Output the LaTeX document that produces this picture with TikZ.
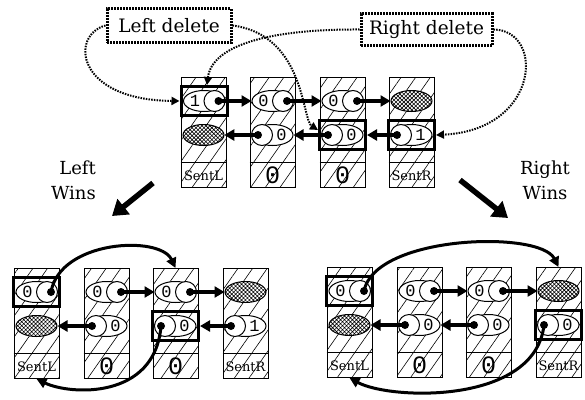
\documentclass[tikz,border=0pt]{standalone}
\usepackage{fontspec}
\setmainfont{DejaVu Serif}
\newfontfamily\digfont{Liberation Mono}
\usetikzlibrary{shapes.geometric,arrows.meta,patterns.meta}

\tikzset{
 colbox/.style={preaction={fill=white}, pattern={Lines[angle=55,distance=12pt,line width=0.6pt]}, draw, line width=0.9pt, minimum width=45pt, minimum height=110pt, inner sep=0pt, anchor=north},
 cell/.style={ellipse, draw, fill=white, line width=1pt, minimum width=41pt, minimum height=21pt, inner sep=0pt},
 hcell/.style={ellipse, draw, line width=1pt, minimum width=41pt, minimum height=21pt, inner sep=0pt, preaction={fill=white}, pattern={Hatch[angle=45,distance=2.8pt,line width=0.6pt]}},
 ptrc/.style={circle, draw, fill=white, line width=1pt, minimum size=21pt, inner sep=0pt},
 ctext/.style={inner sep=0pt, font=\digfont\fontsize{17}{17}\selectfont},
 ltext/.style={inner sep=0pt, font=\fontsize{13}{13}\selectfont},
 dtext/.style={inner sep=0pt, font=\digfont\fontsize{25}{25}\selectfont},
 selbox/.style={draw, line width=3pt, minimum width=46pt, minimum height=29pt, inner sep=0pt},
 parrow/.style={line width=3.2pt, -{Triangle[length=10pt,width=11pt]}},
 carrow/.style={line width=3pt, -{Triangle[length=10pt,width=10pt]}},
 warrow/.style={line width=5.5pt, -{Triangle[length=15pt,width=19pt]}},
 dbox/.style={draw, line width=3pt, dash pattern=on 2pt off 1pt, inner sep=0pt, font=\fontsize{18.5}{18.5}\selectfont},
 dline/.style={line width=2pt, dash pattern=on 1.5pt off 1.2pt, -{Triangle[length=8pt,width=8pt]}},
 wtext/.style={inner sep=0pt, font=\fontsize{18}{25}\selectfont},
}

\newcommand\mkcol[5]{%
  \node[colbox] (#1) at (#2,#3) {};
  \draw[line width=0.9pt] ([yshift=25pt]#1.south west) -- ([yshift=25pt]#1.south east);
  \node[#4] (#1l) at ([yshift=12.5pt]#1.south) {#5};
}
\newcommand\mktop[4]{%
  \node[cell] (#1) at (#2,#3) {};
  \node[ptrc] (#1c) at ([xshift=-10.5pt]#1.east) {};
  \coordinate (#1d) at ([xshift=4pt]#1c.center);
  \fill (#1d) circle (4pt);
  \node[ctext] (#1t) at ([xshift=-9pt]#1.center) {#4};
}
\newcommand\mkbot[4]{%
  \node[cell] (#1) at (#2,#3) {};
  \node[ptrc] (#1c) at ([xshift=10.5pt]#1.west) {};
  \coordinate (#1d) at ([xshift=-4pt]#1c.center);
  \fill (#1d) circle (4pt);
  \node[ctext] (#1t) at ([xshift=9pt]#1.center) {#4};
}
\newcommand\mkhat[3]{\node[hcell] (#1) at (#2,#3) {};}

\begin{document}
\begin{tikzpicture}[x=1pt,y=-1pt]
\useasboundingbox (0,0) rectangle (585,399);

% ---------- top diagram ----------
\mkcol{t1}{203.5}{77}{ltext}{SentL}
\mkcol{t2}{272.5}{77}{dtext}{0}
\mkcol{t3}{342.5}{77}{dtext}{0}
\mkcol{t4}{411.5}{77}{ltext}{SentR}
\mktop{t1a}{204}{101}{1}
\mkhat{t1b}{203.5}{135}
\mktop{t2a}{272.5}{101}{0}
\mkbot{t2b}{272.5}{135}{0}
\mktop{t3a}{342.5}{101}{0}
\mkbot{t3b}{342.5}{135}{0}
\mkhat{t4a}{411.5}{101}
\mkbot{t4b}{411.5}{135}{1}
\node[selbox] (t1s) at (t1a) {};
\node[selbox] (t3s) at (t3b) {};
\node[selbox] (t4s) at (t4b) {};
\draw[parrow] (t1ad) -- (t2a.west);
\draw[parrow] (t2ad) -- (t3a.west);
\draw[parrow] (t3ad) -- (t4a.west);
\draw[parrow] (t4bd) -- (t3s.east);
\draw[parrow] (t3bd) -- (t2b.east);
\draw[parrow] (t2bd) -- (t1b.east);

% ---------- delete labels ----------
\node[dbox, minimum width=124pt, minimum height=34pt] (ld) at (169,25.5) {Left delete};
\node[dbox, minimum width=131pt, minimum height=32pt] (rd) at (426.5,29.5) {Right delete};
\draw[dline] (ld.west) .. controls (70,35) and (75,100) .. (t1s.west);
\draw[dline] (ld.east) .. controls (305,35) and (302,120) .. ([yshift=5pt]t3s.west);
\draw[dline] (rd.west) .. controls (270,29) and (212,45) .. ([xshift=3pt]t1s.north);
\draw[dline] (rd.east) .. controls (545,30) and (540,130) .. (t4s.east);

% ---------- wins arrows ----------
\coordinate (lwa) at (153,183); \coordinate (lwb) at (112,216);
\coordinate (rwa) at (460,180); \coordinate (rwb) at (508,218);
\draw[warrow] (lwa) -- (lwb);
\draw[warrow] (rwa) -- (rwb);
\node[wtext, align=right, anchor=east] (lw) at (96,180) {Left\\Wins};
\node[wtext, align=center] (rw) at (545,180) {Right\\Wins};

% ---------- bottom-left diagram ----------
\mkcol{l1}{36.5}{268}{ltext}{SentL}
\mkcol{l2}{106.5}{268}{dtext}{0}
\mkcol{l3}{175.5}{268}{dtext}{0}
\mkcol{l4}{245.5}{268}{ltext}{SentR}
\mktop{l1a}{36.5}{292}{0}
\mkhat{l1b}{36.5}{326}
\mktop{l2a}{106.5}{292}{0}
\mkbot{l2b}{106.5}{326}{0}
\mktop{l3a}{175.5}{292}{0}
\mkbot{l3b}{175.5}{326}{0}
\mkhat{l4a}{245.5}{292}
\mkbot{l4b}{245.5}{326}{1}
\node[selbox] (l1s) at (l1a) {};
\node[selbox] (l3s) at (l3b) {};
\draw[parrow] (l2ad) -- (l3a.west);
\draw[parrow] (l3ad) -- (l4a.west);
\draw[parrow] (l4bd) -- (l3s.east);
\draw[parrow] (l2bd) -- (l1b.east);
\draw[carrow] (l1ad) .. controls (60,240) and (160,235) .. (l3.north);
\draw[carrow] (l3bd) .. controls (155,400) and (70,395) .. (l1.south);

% ---------- bottom-right diagram ----------
\mkcol{r1}{349.5}{267}{ltext}{SentL}
\mkcol{r2}{419.5}{267}{dtext}{0}
\mkcol{r3}{488.5}{267}{dtext}{0}
\mkcol{r4}{558.5}{267}{ltext}{SentR}
\mktop{r1a}{349.5}{291}{0}
\mkhat{r1b}{349.5}{325}
\mktop{r2a}{419.5}{291}{0}
\mkbot{r2b}{419.5}{325}{0}
\mktop{r3a}{488.5}{291}{0}
\mkbot{r3b}{488.5}{325}{0}
\mkhat{r4a}{558.5}{291}
\mkbot{r4b}{558.5}{325}{0}
\node[selbox] (r1s) at (r1a) {};
\node[selbox] (r4s) at (r4b) {};
\draw[parrow] (r2ad) -- (r3a.west);
\draw[parrow] (r3ad) -- (r4a.west);
\draw[parrow] (r3bd) -- (r2b.east);
\draw[parrow] (r2bd) -- (r1b.east);
\draw[carrow] (r1ad) .. controls (375,235) and (540,230) .. (r4.north);
\draw[carrow] (r4bd) .. controls (535,405) and (390,400) .. (r1.south);
\end{tikzpicture}
\end{document}
